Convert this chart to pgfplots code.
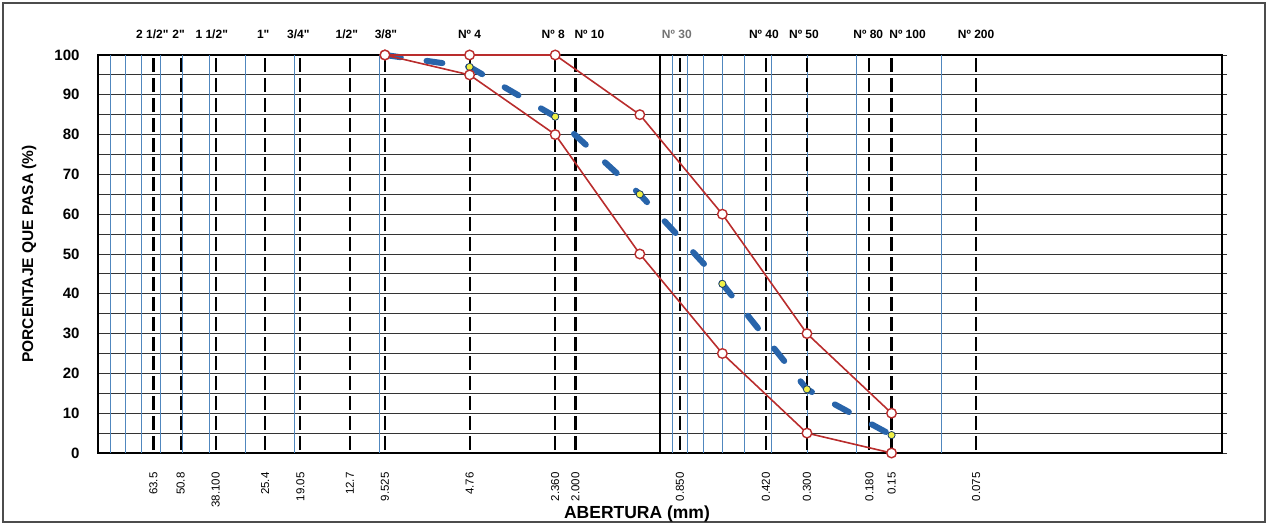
\documentclass[border=0pt]{standalone}
\usepackage{pgfplots}
\pgfplotsset{compat=1.18}
\usepackage{fontspec}
\setmainfont{Liberation Sans}[Ligatures=TeXOff]
\definecolor{gridblue}{RGB}{80,135,190}
\definecolor{limred}{RGB}{185,45,45}
\definecolor{datablue}{RGB}{40,100,170}
\definecolor{dotyellow}{RGB}{240,240,70}
\pgfplotsset{sieve/.style={black, line width=2.2pt, dash pattern=on 14pt off 5.9pt, dash phase=16.95pt, forget plot}}
\begin{document}
\begin{tikzpicture}[x=1pt,y=1pt]
\path[use as bounding box] (-98,-73) rectangle (1176,453);
\draw[line width=1.5pt, black!70] (-95,-69) rectangle (1167,450);
\begin{axis}[
  at={(0,0)}, anchor=south west,
  width=1124pt, height=398pt, scale only axis,
  xmode=log, x dir=reverse,
  xmin=0.01, xmax=100, ymin=0, ymax=100,
  clip=false,
  axis line style={line width=1.8pt},
  /pgf/number format/assume math mode=true,
  xtick={63.5,50.8,38.1,25.4,19.05,12.7,9.525,4.76,2.36,2.0,0.85,0.42,0.30,0.18,0.15,0.075},
  xticklabels={63.5,50.8,38.100,25.4,19.05,12.7,9.525,4.76,2.360,2.000,0.850,0.420,0.300,0.180,0.15,0.075},
  xticklabel style={rotate=90, anchor=east, font=\fontsize{11.5}{12}\selectfont},
  xticklabel shift=16pt,
  xtick style={draw=none},
  ytick style={black!80, line width=0.9pt},
  ytick pos=right, yticklabel pos=left, ytick align=outside,
  major tick length=5pt, minor tick length=5pt,
  ytick={0,10,...,100},
  minor ytick={5,15,...,95},
  yticklabel style={font=\bfseries\fontsize{15}{15}\selectfont},
  yticklabel shift=10pt,
  ymajorgrids=true, yminorgrids=true,
  major grid style={black!80, line width=0.9pt},
  minor grid style={black!80, line width=0.9pt},
  extra x ticks={90,80,70,60,50,40,30,20,10,0.9,0.8,0.7,0.6,0.5,0.4,0.3,0.2,0.1},
  extra x tick labels={},
  extra x tick style={grid=major, major grid style={gridblue, line width=0.8pt}},
]
% sieve lines
\addplot[sieve] coordinates {(63.5,0) (63.5,100)};
\addplot[sieve] coordinates {(50.8,0) (50.8,100)};
\addplot[sieve] coordinates {(38.1,0) (38.1,100)};
\addplot[sieve] coordinates {(25.4,0) (25.4,100)};
\addplot[sieve] coordinates {(19.05,0) (19.05,100)};
\addplot[sieve] coordinates {(12.7,0) (12.7,100)};
\addplot[sieve] coordinates {(9.525,0) (9.525,100)};
\addplot[sieve] coordinates {(4.76,0) (4.76,100)};
\addplot[sieve] coordinates {(2.36,0) (2.36,100)};
\addplot[sieve] coordinates {(2.0,0) (2.0,100)};
\addplot[sieve] coordinates {(0.85,0) (0.85,100)};
\addplot[sieve] coordinates {(0.42,0) (0.42,100)};
\addplot[sieve] coordinates {(0.30,0) (0.30,100)};
\addplot[sieve] coordinates {(0.18,0) (0.18,100)};
\addplot[sieve] coordinates {(0.15,0) (0.15,100)};
\addplot[sieve] coordinates {(0.075,0) (0.075,100)};
\addplot[black, line width=2.2pt, forget plot] coordinates {(1,0) (1,100)};
% sample curve
\addplot[datablue, line width=6pt, line cap=round, dash pattern=on 16pt off 26pt,
  mark=*, mark size=3.6pt, mark options={solid, fill=dotyellow, draw=datablue!60!black, line width=0.8pt}]
  coordinates {(9.525,100) (4.76,97) (2.36,84.5) (1.18,65) (0.6,42.5) (0.3,16) (0.15,4.5)};
% limits
\addplot[limred, line width=1.6pt, mark=*, mark size=4.8pt, mark options={fill=white, draw=limred, line width=1.4pt}]
  coordinates {(9.525,100) (4.76,100) (2.36,100) (1.18,85) (0.6,60) (0.3,30) (0.15,10)};
\addplot[limred, line width=1.6pt, mark=*, mark size=4.8pt, mark options={fill=white, draw=limred, line width=1.4pt}]
  coordinates {(9.525,100) (4.76,95) (2.36,80) (1.18,50) (0.6,25) (0.3,5) (0.15,0)};
% top sieve labels
\begin{scope}[every node/.style={anchor=base, font=\bfseries\fontsize{12}{12}\selectfont}]
\node[xshift=-1pt, yshift=16pt] at (axis cs:63.5,100) {2 1/2"};
\node[xshift=-2pt, yshift=16pt] at (axis cs:50.8,100) {2"};
\node[xshift=-4pt, yshift=16pt] at (axis cs:38.1,100) {1 1/2"};
\node[xshift=-2pt, yshift=16pt] at (axis cs:25.4,100) {1"};
\node[xshift=-2pt, yshift=16pt] at (axis cs:19.05,100) {3/4"};
\node[xshift=-3pt, yshift=16pt] at (axis cs:12.7,100) {1/2"};
\node[xshift=1pt, yshift=16pt] at (axis cs:9.525,100) {3/8"};
\node[yshift=16pt] at (axis cs:4.76,100) {Nº 4};
\node[xshift=-2pt, yshift=16pt] at (axis cs:2.36,100) {Nº 8};
\node[xshift=14pt, yshift=16pt] at (axis cs:2.0,100) {Nº 10};
\node[xshift=-3pt, yshift=16pt, text=black!55] at (axis cs:0.85,100) {Nº 30};
\node[xshift=-2pt, yshift=16pt] at (axis cs:0.42,100) {Nº 40};
\node[xshift=-3pt, yshift=16pt] at (axis cs:0.3,100) {Nº 50};
\node[xshift=-1pt, yshift=16pt] at (axis cs:0.18,100) {Nº 80};
\node[xshift=16pt, yshift=16pt] at (axis cs:0.15,100) {Nº 100};
\node[yshift=16pt] at (axis cs:0.075,100) {Nº 200};
\end{scope}
\end{axis}
\node[rotate=90, font=\bfseries\fontsize{15.5}{16}\selectfont] at (-69,199) {PORCENTAJE QUE PASA (\%)};
\node[anchor=base, font=\bfseries\fontsize{17.5}{18}\selectfont] at (539,-66) {ABERTURA (mm)};
\end{tikzpicture}
\end{document}
